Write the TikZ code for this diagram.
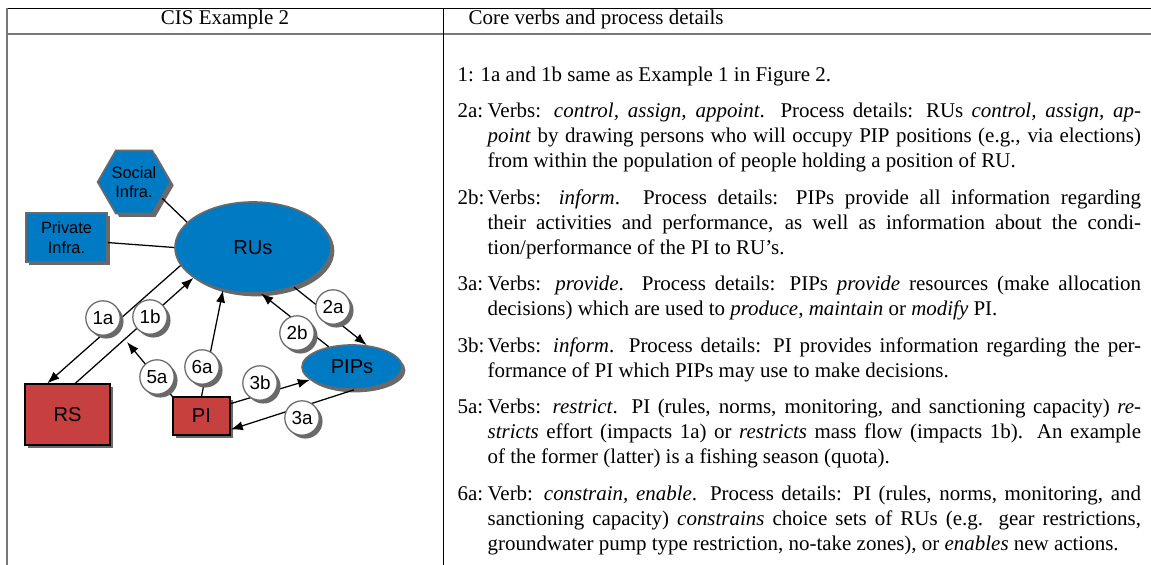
\documentclass[tikz,border=0pt]{standalone}
\usepackage{fontspec}
\setmainfont{Liberation Serif}
\newfontfamily\helv{Liberation Sans}
\usetikzlibrary{arrows.meta,shapes.geometric,shadows,positioning}
\definecolor{cisblue}{RGB}{0,122,195}
\definecolor{cisred}{RGB}{198,64,64}
\definecolor{cisgray}{RGB}{105,105,105}
\definecolor{rulegray}{RGB}{120,120,120}
\hyphenpenalty=10000
\newcommand{\itemlbl}[1]{\hangindent=14.3pt\hangafter=1\strut\makebox[14.3pt][l]{#1}}

\begin{document}
\begin{tikzpicture}[x=0.477pt,y=-0.477pt,>={Latex[length=5.8pt,width=4.4pt]},semithick]
  \tikzstyle{boxshadow}=[drop shadow={shadow xshift=1.6pt,shadow yshift=-1.6pt,fill=cisgray,opacity=1}]
  \tikzstyle{bluebox}=[draw=cisgray,thick,fill=cisblue,boxshadow,align=center,inner sep=0pt,font=\helv\fontsize{7.8}{9.3}\selectfont]
  \tikzstyle{redbox}=[draw=black,fill=cisred,boxshadow,inner sep=0pt,font=\helv\fontsize{9.6}{12}\selectfont]
  \tikzstyle{flowlbl}=[circle,draw=cisgray,fill=white,boxshadow,minimum size=16.4pt,inner sep=0pt,font=\helv\fontsize{9}{10}\selectfont]
  \tikzstyle{itemtext}=[anchor=north west,inner sep=0pt,text width=326pt,align=justify,font=\fontsize{10}{12}\selectfont]
  \tikzset{nextitem/.style={below=4.7pt of #1.south west,anchor=north west}}
  \useasboundingbox (0,0) rectangle (1151,565);

  % table rules
  \draw[thin] (7,8) -- (1151,8);
  \draw[rulegray,line width=1pt] (7,34) -- (1151,34);
  \draw[rulegray,line width=1pt] (7,8) -- (7,565);
  \draw[thin] (443,8) -- (443,565);
  \node[anchor=base,font=\fontsize{10}{12}\selectfont] (hd1) at (225,25) {CIS Example 2};
  \node[anchor=base west,font=\fontsize{10}{12}\selectfont] (hd2) at (461,25) {Core verbs and process details};

  % the diagram
  \node[bluebox,regular polygon,regular polygon sides=6,minimum size=32.4pt] (Social) at (134,182) {Social\\Infra.};
  \node[bluebox,rectangle,minimum width=38.6pt,minimum height=23.4pt] (Private) at (66.5,237.5) {Private\\Infra.};
  \node[bluebox,ellipse,minimum width=74.4pt,minimum height=43.4pt,font=\helv\fontsize{9.6}{12}\selectfont] (RUs) at (253,247.5) {RUs};
  \node[bluebox,ellipse,minimum width=47.7pt,minimum height=21pt,font=\helv\fontsize{9.6}{12}\selectfont] (PIPs) at (352,367) {PIPs};
  \node[redbox,minimum width=40.5pt,minimum height=29.1pt] (RS) at (67.5,414.5) {RS};
  \node[redbox,minimum width=27.2pt,minimum height=18.1pt] (PI) at (201.5,416) {PI};
  \coordinate (c5a) at (127,342);

  \path[->]
    (RUs.194) edge (RS.123)
    (RS.76) edge (RUs.207)
    (PI.north west) edge (c5a)
    (PI.north) edge (RUs.235)
    (RUs.316) edge (PIPs.56)
    (PIPs.139) edge (RUs.280)
    (PI.23) edge (PIPs.197)
    (PIPs.275) edge (PI.-25);
  \path
    (Social.-30) edge (RUs.159)
    (Private.-7) edge (RUs.west);

  \node[flowlbl] (l1a) at (103,318) {1a};
  \node[flowlbl] (l1b) at (150,317) {1b};
  \node[flowlbl] (l5a) at (157,377) {5a};
  \node[flowlbl] (l6a) at (202,367) {6a};
  \node[flowlbl] (l3b) at (260,383) {3b};
  \node[flowlbl] (l3a) at (302,418) {3a};
  \node[flowlbl] (l2a) at (333,307) {2a};
  \node[flowlbl] (l2b) at (297,333) {2b};

  % verbs and process details
  \node[itemtext] (t1) at (457,63) {\strut\makebox[11pt][l]{1:}1a and 1b same as Example 1 in Figure 2.\strut\par};
  \node[itemtext,nextitem=t1] (t2a) {\itemlbl{2a:}Verbs: \emph{control, assign, appoint}. Process details: RUs \emph{control, assign, ap-\linebreak point} by drawing persons who will occupy PIP positions (e.g., via elections)\linebreak from within the population of people holding a position of RU.\strut\par};
  \node[itemtext,nextitem=t2a] (t2b) {\itemlbl{2b:}Verbs: \emph{inform}. Process details: PIPs provide all information regarding\linebreak their activities and performance, as well as information about the condi-\linebreak tion/performance of the PI to RU's.\strut\par};
  \node[itemtext,nextitem=t2b] (t3a) {\itemlbl{3a:}Verbs: \emph{provide}. Process details: PIPs \emph{provide} resources (make allocation\linebreak decisions) which are used to \emph{produce, maintain} or \emph{modify} PI.\strut\par};
  \node[itemtext,nextitem=t3a] (t3b) {\itemlbl{3b:}Verbs: \emph{inform}. Process details: PI provides information regarding the per-\linebreak formance of PI which PIPs may use to make decisions.\strut\par};
  \node[itemtext,nextitem=t3b] (t5a) {\itemlbl{5a:}Verbs: \emph{restrict}. PI (rules, norms, monitoring, and sanctioning capacity) \emph{re-\linebreak stricts} effort (impacts 1a) or \emph{restricts} mass flow (impacts 1b). An example\linebreak of the former (latter) is a fishing season (quota).\strut\par};
  \node[itemtext,nextitem=t5a] (t6a) {\itemlbl{6a:}Verb: \emph{constrain, enable}. Process details: PI (rules, norms, monitoring, and\linebreak sanctioning capacity) \emph{constrains} choice sets of RUs (e.g. gear restrictions,\linebreak groundwater pump type restriction, no-take zones), or \emph{enables} new actions.\strut\par};
\end{tikzpicture}
\end{document}
